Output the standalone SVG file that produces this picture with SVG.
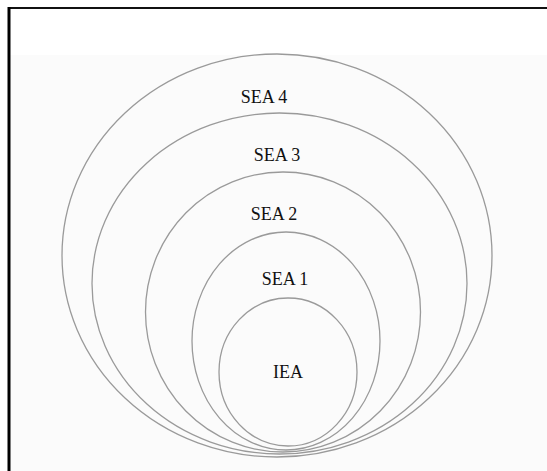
<svg xmlns="http://www.w3.org/2000/svg" width="547" height="471" viewBox="0 0 547 471">
<style>
.ring{fill:none;stroke:#9a9a9a;stroke-width:1.3}
.lbl{font-family:"Liberation Serif","Times New Roman",serif;font-size:18px;fill:#111;text-anchor:middle}
</style>
<rect x="0" y="0" width="547" height="471" fill="#ffffff"/>
<rect x="9" y="55" width="538" height="416" fill="#fbfbfb"/>
<line x1="8" y1="8" x2="547" y2="8" stroke="#111" stroke-width="2"/>
<line x1="9" y1="7" x2="9" y2="471" stroke="#000" stroke-width="3"/>
<g id="sea4"><ellipse class="ring" cx="277" cy="255.5" rx="215" ry="201.5"/><text class="lbl" x="264" y="102.5">SEA 4</text></g>
<g id="sea3"><ellipse class="ring" cx="279.5" cy="283.5" rx="187.5" ry="170.5"/><text class="lbl" x="277" y="160.5">SEA 3</text></g>
<g id="sea2"><ellipse class="ring" cx="283" cy="312" rx="137.5" ry="140"/><text class="lbl" x="274" y="220">SEA 2</text></g>
<g id="sea1"><ellipse class="ring" cx="286" cy="341" rx="94" ry="109"/><text class="lbl" x="285" y="285">SEA 1</text></g>
<g id="iea"><ellipse class="ring" cx="288" cy="372" rx="69" ry="74"/><text class="lbl" x="288" y="378">IEA</text></g>
<g id="connectors"/>
</svg>
